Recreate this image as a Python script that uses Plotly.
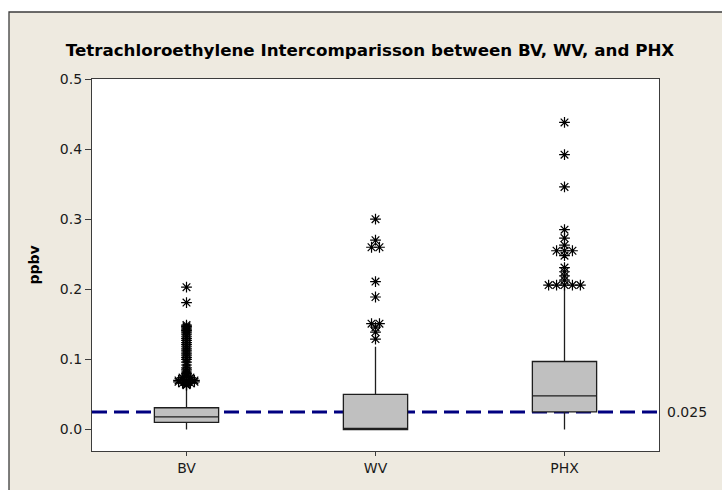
import plotly.graph_objects as go

# ---------------- data ----------------
categories = ["BV", "WV", "PHX"]
q1 = [0.010, 0.000, 0.025]
median = [0.018, 0.000, 0.048]
q3 = [0.031, 0.050, 0.097]
lower_whisker = [0.000, 0.000, 0.000]
upper_whisker = [0.058, 0.118, 0.203]

bv_outliers = [0.203, 0.181, 0.149, 0.147, 0.145, 0.143, 0.141, 0.139, 0.136, 0.133,
               0.130, 0.127, 0.124, 0.121, 0.118, 0.115, 0.112, 0.109, 0.106, 0.103,
               0.100, 0.096, 0.092, 0.088, 0.085, 0.082, 0.080, 0.078, 0.076, 0.074,
               0.074, 0.072, 0.072, 0.070, 0.070, 0.070, 0.068, 0.068, 0.068, 0.066,
               0.066, 0.065, 0.064, 0.063]
wv_outliers = [0.300, 0.270, 0.260, 0.260, 0.211, 0.189, 0.151, 0.151, 0.146, 0.139, 0.129]
phx_outliers = [0.438, 0.392, 0.346, 0.285, 0.273, 0.263, 0.255, 0.255, 0.255, 0.248,
                0.231, 0.225, 0.219, 0.213, 0.206, 0.206, 0.206, 0.206, 0.206]
outliers = [bv_outliers, wv_outliers, phx_outliers]

reference_level = 0.025
y_ticks = [0.0, 0.1, 0.2, 0.3, 0.4, 0.5]

# ---------------- layout constants ----------------
W, H = 722, 490
ML, MR, MT, MB = 92, 63, 79, 39
PW, PH = W - ML - MR, H - MT - MB
BEIGE = "#EEEAE0"
FRAME = "#3C3C3C"
FONT = "DejaVu Sans"
TXT = "#1A1A1A"

fig = go.Figure()

for i, cat in enumerate(categories):
    fig.add_trace(go.Box(
        x=[i], q1=[q1[i]], median=[median[i]], q3=[q3[i]],
        lowerfence=[lower_whisker[i]], upperfence=[upper_whisker[i]],
        boxpoints=False, width=0.34, whiskerwidth=0,
        fillcolor="#C0C0C0", line=dict(color="#1E1E1E", width=1.3),
        name=cat, showlegend=False, hoverinfo="skip"))

    # spread tied outliers horizontally (as Minitab does)
    vals = outliers[i]
    xs, ys = [], []
    seen = {}
    for v in vals:
        seen[v] = seen.get(v, 0) + 1
    for v, n in seen.items():
        for j in range(n):
            xs.append(i + (j - (n - 1) / 2) * 0.042)
            ys.append(v)
    fig.add_trace(go.Scatter(
        x=xs, y=ys, mode="markers",
        marker=dict(symbol="asterisk-open", size=9,
                    line=dict(color="black", width=1.2), color="black"),
        showlegend=False, hoverinfo="skip"))

# outer beige frame
fig.add_shape(type="rect", xref="paper", yref="paper", layer="below",
              x0=(9 - ML) / PW, x1=(W + 10 - ML) / PW,
              y0=-(H + 10 - MT - PH) / PH, y1=(MT + PH - 12) / PH,
              fillcolor=BEIGE, line=dict(color=FRAME, width=1.3))
# white plotting area
fig.add_shape(type="rect", xref="paper", yref="paper", layer="below",
              x0=0, x1=1, y0=0, y1=1, fillcolor="white", line=dict(width=0))
# reference line
fig.add_shape(type="line", xref="paper", yref="y", layer="below",
              x0=0, x1=1, y0=reference_level, y1=reference_level,
              line=dict(color="#000080", width=3, dash="15px,7px"))

fig.add_annotation(xref="paper", yref="y", x=1, y=reference_level,
                   text=f"{reference_level:.3f}", showarrow=False,
                   xanchor="left", yanchor="middle", xshift=6,
                   font=dict(family=FONT, size=14, color=TXT))

fig.update_layout(
    width=W, height=H, autosize=False,
    margin=dict(l=ML, r=MR, t=MT, b=MB),
    paper_bgcolor="white", plot_bgcolor="rgba(0,0,0,0)",
    title=dict(text="<b>Tetrachloroethylene Intercomparisson between BV, WV, and PHX</b>",
               x=(370 - ML) / PW, xref="paper", xanchor="center",
               y=1 - 50 / H, yref="container", yanchor="middle",
               font=dict(family=FONT, size=16.7, color="black")),
    font=dict(family=FONT, size=14, color=TXT),
)

fig.update_xaxes(range=[-0.5, 2.5], tickvals=list(range(len(categories))),
                 ticktext=categories, ticks="outside", ticklen=4, tickwidth=1,
                 tickcolor=FRAME, showline=True, linecolor=FRAME, linewidth=1.3,
                 mirror=True, showgrid=False, zeroline=False,
                 tickfont=dict(family=FONT, size=14, color=TXT))
fig.update_yaxes(range=[-0.0307, 0.5], tickvals=y_ticks, tickformat=".1f",
                 ticks="outside", ticklen=6, tickwidth=1, tickcolor=FRAME,
                 showline=True, linecolor=FRAME, linewidth=1.3, mirror=True,
                 showgrid=False, zeroline=False,
                 title=dict(text="<b>ppbv</b>", standoff=16,
                            font=dict(family=FONT, size=14, color="black")),
                 tickfont=dict(family=FONT, size=14, color=TXT))

fig.write_html("out.html")
